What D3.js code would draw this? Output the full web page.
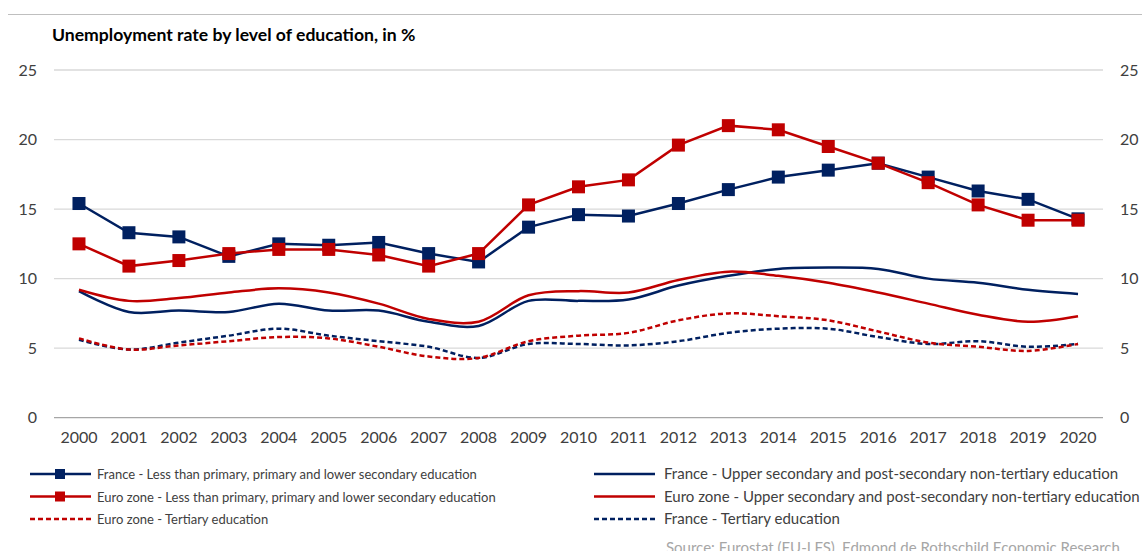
<!DOCTYPE html>
<html>
<head>
<meta charset="utf-8">
<script src="https://cdn.jsdelivr.net/npm/d3@7"></script>
<style>
  body { margin: 0; background: #fff; }
  svg { font-family: Lato, "Open Sans", sans-serif; }
</style>
</head>
<body>
<script>
// years on the x axis
var years = ["2000","2001","2002","2003","2004","2005","2006","2007","2008","2009","2010",
             "2011","2012","2013","2014","2015","2016","2017","2018","2019","2020"];

// unemployment rates, %
var frLower = [15.4,13.3,13.0,11.6,12.5,12.4,12.6,11.8,11.2,13.7,14.6,14.5,15.4,16.4,17.3,17.8,18.3,17.3,16.3,15.7,14.3];
var ezLower = [12.5,10.9,11.3,11.8,12.1,12.1,11.7,10.9,11.8,15.3,16.6,17.1,19.6,21.0,20.7,19.5,18.3,16.9,15.3,14.2,14.2];
var frUpper = [9.1,7.6,7.7,7.6,8.2,7.7,7.7,6.9,6.6,8.4,8.4,8.5,9.5,10.2,10.7,10.8,10.7,10.0,9.7,9.2,8.9];
var ezUpper = [9.2,8.4,8.6,9.0,9.3,9.0,8.2,7.1,6.9,8.8,9.1,9.0,9.9,10.5,10.2,9.7,9.0,8.2,7.4,6.9,7.3];
var ezTertiary = [5.7,4.9,5.2,5.5,5.8,5.7,5.1,4.4,4.3,5.5,5.9,6.1,7.0,7.5,7.3,7.0,6.2,5.4,5.1,4.8,5.3];
var frTertiary = [5.6,4.9,5.4,5.9,6.4,5.9,5.5,5.1,4.3,5.3,5.3,5.2,5.5,6.1,6.4,6.4,5.8,5.3,5.5,5.1,5.3];

var yTicks = [0, 5, 10, 15, 20, 25];

var navy = "#002060", red = "#c00000";

var series = [
  {name: "France - Upper secondary and post-secondary non-tertiary education", values: frUpper, color: navy, dash: null, marker: false},
  {name: "Euro zone - Upper secondary and post-secondary non-tertiary education", values: ezUpper, color: red, dash: null, marker: false},
  {name: "France - Tertiary education", values: frTertiary, color: navy, dash: "5,3", marker: false},
  {name: "Euro zone - Tertiary education", values: ezTertiary, color: red, dash: "5,3", marker: false},
  {name: "France - Less than primary, primary and lower secondary education", values: frLower, color: navy, dash: null, marker: true},
  {name: "Euro zone - Less than primary, primary and lower secondary education", values: ezLower, color: red, dash: null, marker: true}
];

// legend order as in the picture: [column, row]
var legendPos = {
  "France - Less than primary, primary and lower secondary education": [0, 0],
  "France - Upper secondary and post-secondary non-tertiary education": [1, 0],
  "Euro zone - Less than primary, primary and lower secondary education": [0, 1],
  "Euro zone - Upper secondary and post-secondary non-tertiary education": [1, 1],
  "Euro zone - Tertiary education": [0, 2],
  "France - Tertiary education": [1, 2]
};

var W = 1142, H = 551;
var plotL = 54, plotR = 1103, plotT = 70, plotB = 417.7;

var svg = d3.select("body").append("svg").attr("width", W).attr("height", H);

// top rule
svg.append("line").attr("x1", 8).attr("x2", W).attr("y1", 14.5).attr("y2", 14.5)
   .attr("stroke", "#bfbfbf").attr("stroke-width", 1);

svg.append("text").attr("x", 52).attr("y", 41)
   .attr("font-size", 17.6).attr("font-weight", "bold").attr("fill", "#000")
   .text("Unemployment rate by level of education, in %");

var x = d3.scaleBand().domain(years).range([plotL, plotR]);
var y = d3.scaleLinear().domain([0, 25]).range([plotB, plotT]);
var cx = function(i) { return x(years[i]) + x.bandwidth() / 2; };

// gridlines
svg.append("g").selectAll("line").data(yTicks).enter().append("line")
   .attr("x1", plotL).attr("x2", plotR)
   .attr("y1", function(d) { return y(d); }).attr("y2", function(d) { return y(d); })
   .attr("stroke", function(d) { return d === 0 ? "#a6a6a6" : "#d9d9d9"; })
   .attr("stroke-width", 1.3);

// left and right axes: labels only
var yl = svg.append("g").attr("transform", "translate(" + (plotL - 17) + ",0)")
   .call(d3.axisLeft(y).tickValues(yTicks).tickSize(0).tickPadding(0));
var yr = svg.append("g").attr("transform", "translate(" + (plotR + 17) + ",0)")
   .call(d3.axisRight(y).tickValues(yTicks).tickSize(0).tickPadding(0));
var xa = svg.append("g").attr("transform", "translate(0," + plotB + ")")
   .call(d3.axisBottom(x).tickSize(0).tickPadding(14));
[yl, yr, xa].forEach(function(g) {
  g.select(".domain").remove();
  g.selectAll("text").attr("font-size", 16).attr("fill", "#404040")
   .attr("font-family", "Lato, sans-serif");
});

// lines
var lineStraight = d3.line().x(function(d, i) { return cx(i); }).y(function(d) { return y(d); });
var lineSmooth = d3.line().x(function(d, i) { return cx(i); }).y(function(d) { return y(d); })
                   .curve(d3.curveCatmullRom.alpha(0.5));

series.forEach(function(s) {
  svg.append("path").datum(s.values)
     .attr("d", s.marker ? lineStraight : lineSmooth)
     .attr("fill", "none").attr("stroke", s.color).attr("stroke-width", 2.5)
     .attr("stroke-dasharray", s.dash);
  if (s.marker) {
    svg.append("g").selectAll("rect").data(s.values).enter().append("rect")
       .attr("x", function(d, i) { return cx(i) - 6.5; })
       .attr("y", function(d) { return y(d) - 6.5; })
       .attr("width", 13).attr("height", 13)
       .attr("fill", s.color);
  }
});

// legend (right column is set a bit larger, as in the source image)
var colX = [30, 594], colFont = [13, 15], rowY = [474, 496.5, 519];
series.forEach(function(s) {
  var p = legendPos[s.name];
  var lx = colX[p[0]], ly = rowY[p[1]];
  var g = svg.append("g").attr("transform", "translate(" + lx + "," + ly + ")");
  g.append("line").attr("x1", 0).attr("x2", 61).attr("y1", 0).attr("y2", 0)
   .attr("stroke", s.color).attr("stroke-width", 2.5).attr("stroke-dasharray", s.dash);
  if (s.marker) {
    g.append("rect").attr("x", 25).attr("y", -5).attr("width", 10).attr("height", 10).attr("fill", s.color);
  }
  g.append("text").attr("x", p[0] ? 70 : 67).attr("y", 5).attr("font-size", colFont[p[0]]).attr("fill", "#404040")
   .text(s.name);
});

svg.append("text").attr("x", 666).attr("y", 553).attr("font-size", 15).attr("fill", "#a6a6a6")
   .text("Source: Eurostat (EU-LFS), Edmond de Rothschild Economic Research");
</script>
</body>
</html>
